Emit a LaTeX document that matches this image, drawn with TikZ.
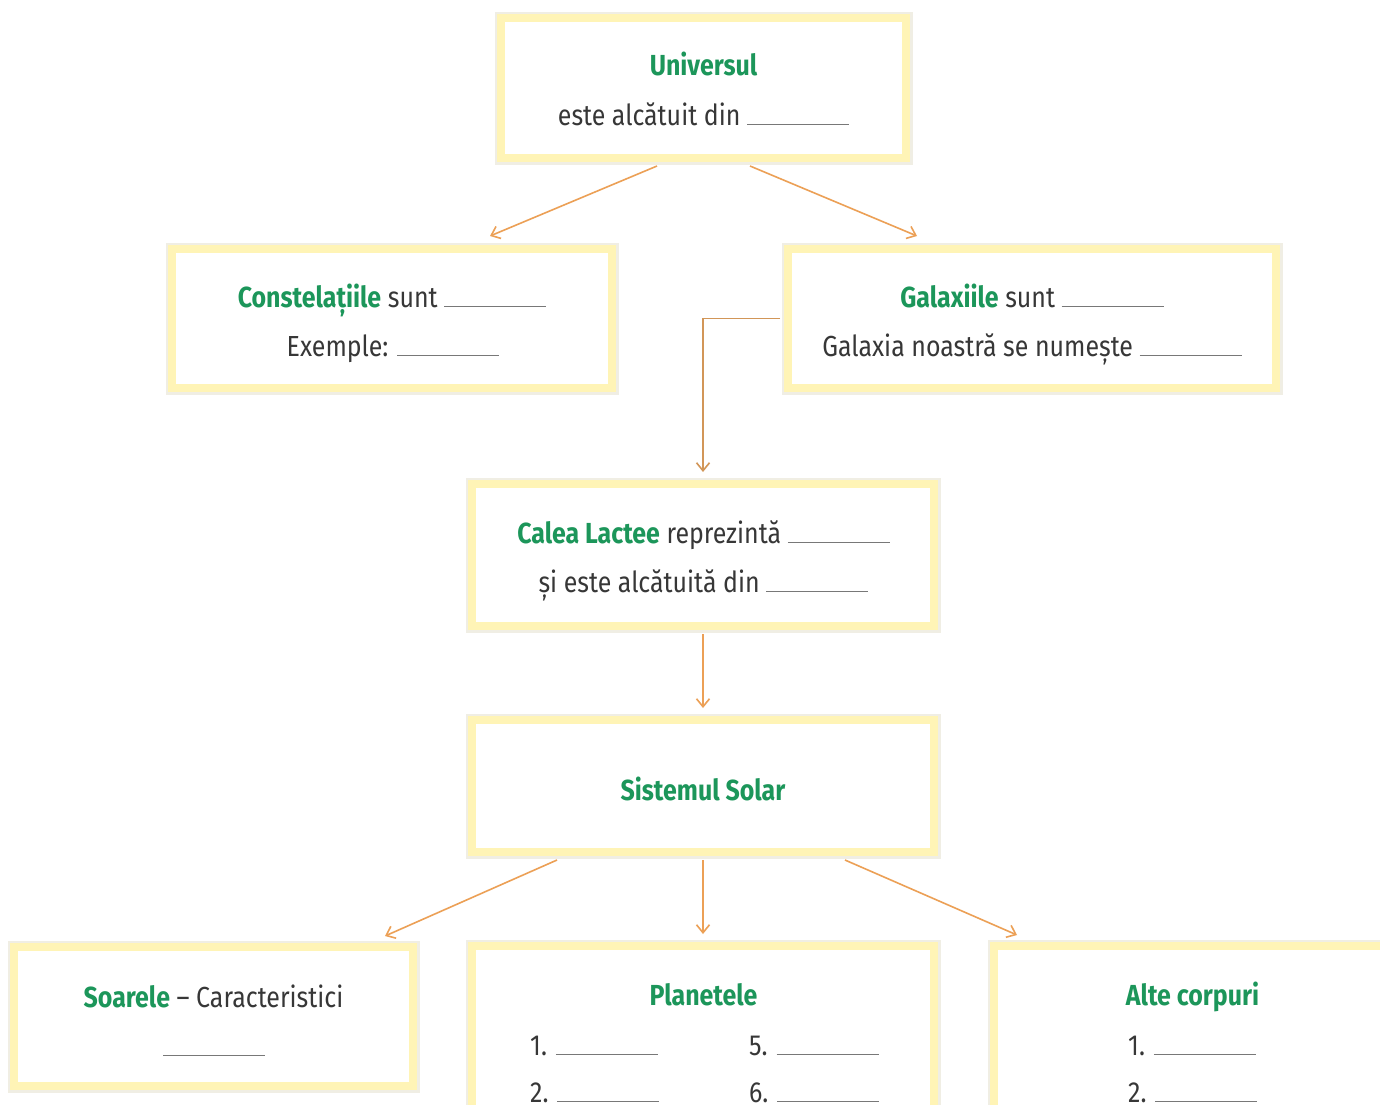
\documentclass[tikz,border=0pt]{standalone}
\usepackage{fontspec}
\setmainfont{Fira Sans}[FakeStretch=0.86]
\usetikzlibrary{arrows.meta,calc}
\definecolor{boxy}{RGB}{255,244,182}
\definecolor{boxshadow}{RGB}{240,238,228}
\definecolor{grn}{RGB}{28,150,90}
\definecolor{txt}{RGB}{55,55,55}
\definecolor{arr}{RGB}{236,160,86}
\definecolor{arrdark}{RGB}{210,150,88}
\definecolor{blankc}{RGB}{120,120,120}
\newcommand{\gapline}{{\color{blankc}\rule{102pt}{1.4pt}}}
\newcommand{\hl}[1]{{\bfseries\color{grn}#1}}
\begin{document}
\begin{tikzpicture}[x=1pt,y=-1pt,
  box/.style 2 args={rectangle, draw=boxy, line width=8pt, fill=white, inner sep=0pt,
     minimum width=#1, minimum height=#2, preaction={draw=boxshadow, line width=13pt}},
  lbl/.style={font=\fontsize{29}{34}\selectfont, text=txt, inner sep=0pt},
  conn/.style={draw=arr, line width=1.6pt, -{Straight Barb[length=8pt,width=13pt,line width=1.6pt]}}]
\clip (0,0) rectangle (1380,1104);
\fill[white] (0,0) rectangle (1380,1104);
% boxes
\node[box={405pt}{140pt}] (u) at (703.5,88) {};
\node[box={440pt}{139pt}] (c) at (392,318.5) {};
\node[box={488pt}{139pt}] (g) at (1032,318.5) {};
\node[box={462pt}{142pt}] (l) at (703,555) {};
\node[box={462pt}{132pt}] (s) at (703,786) {};
\node[box={399pt}{139pt}] (so) at (213.5,1016.5) {};
\node[box={462pt}{194pt}] (p) at (703,1043) {};
\node[box={406pt}{194pt}] (a) at (1197,1043) {};
% texts
\node[lbl, anchor=base] (u1) at (703.5,75) {\hl{Universul}};
\node[lbl, anchor=base] (u2) at (703.5,125) {este alcătuit din \gapline};
\node[lbl, anchor=base] (c1) at (392,307) {\hl{Constelațiile} sunt \gapline};
\node[lbl, anchor=base] (c2) at (393,356) {Exemple: \gapline};
\node[lbl, anchor=base] (g1) at (1032,307) {\hl{Galaxiile} sunt \gapline};
\node[lbl, anchor=base] (g2) at (1032,356) {Galaxia noastră se numește \gapline};
\node[lbl, anchor=base] (l1) at (703.5,543) {\hl{Calea Lactee} reprezintă \gapline};
\node[lbl, anchor=base] (l2) at (703.5,592) {și este alcătuită din \gapline};
\node[lbl, anchor=base] (s1) at (703,800) {\hl{Sistemul Solar}};
\node[lbl, anchor=base] (so1) at (213.5,1007) {\hl{Soarele} – Caracteristici};
\node[lbl, anchor=base] (so2) at (214,1056) {\gapline};
\node[lbl, anchor=base] (p1) at (703.5,1005) {\hl{Planetele}};
\node[lbl, anchor=base west] (p2) at (530,1055) {1. \gapline};
\node[lbl, anchor=base west] (p3) at (749,1055) {5. \gapline};
\node[lbl, anchor=base west] (p4) at (530,1102) {2. \gapline};
\node[lbl, anchor=base west] (p5) at (749,1102) {6. \gapline};
\node[lbl, anchor=base] (a1) at (1192.5,1005) {\hl{Alte corpuri}};
\node[lbl, anchor=base west] (a2) at (1128,1055) {1. \gapline};
\node[lbl, anchor=base west] (a3) at (1128,1102) {2. \gapline};
% connectors
\draw[conn] ($(u.south)+(-46.5,4)$) -- ($(c.north)+(98,-9)$);
\draw[conn] ($(u.south)+(46.5,4)$) -- ($(g.north)+(-115,-9)$);
\draw[conn, draw=arrdark] ($(g.west)+(-4,0)$) -| ($(l.north)+(0,-8)$);
\draw[conn] ($(l.south)+(0,4)$) -- ($(s.north)+(0,-8)$);
\draw[conn] ($(s.south)+(-146,4)$) -- ($(so.north)+(171.5,-7)$);
\draw[conn] ($(s.south)+(0,4)$) -- ($(p.north)+(0,-8)$);
\draw[conn] ($(s.south)+(142,4)$) -- ($(a.north)+(-180,-7)$);
\end{tikzpicture}
\end{document}
